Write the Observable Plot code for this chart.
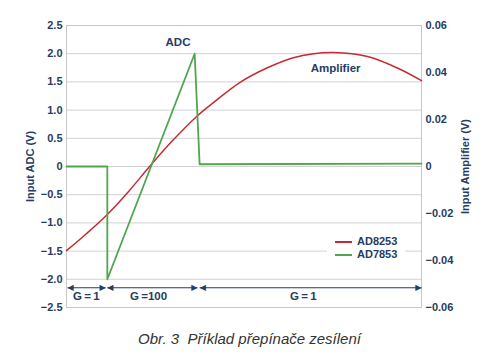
<!DOCTYPE html>
<html><head><meta charset="utf-8">
<script src="https://cdn.jsdelivr.net/npm/d3@7"></script>
<script src="https://cdn.jsdelivr.net/npm/@observablehq/plot@0.6"></script>
<style>
body{margin:0;background:#fff;font-family:"Liberation Sans",Arial,sans-serif;}
#wrap{position:relative;width:487px;}
#legend{position:absolute;left:327px;top:232px;width:78px;height:30px;background:#fff;padding-top:3px;box-sizing:border-box;}
#legend .row{height:12.5px;line-height:12.5px;font-size:11px;font-weight:bold;color:#263c63;white-space:nowrap;}
#legend .sw{display:inline-block;width:17px;height:2px;vertical-align:middle;margin-left:8px;margin-right:5px;}
#caption{width:487px;box-sizing:border-box;padding-left:12px;text-align:center;margin-top:11px;line-height:16px;font-size:15px;font-style:italic;color:#333;}
</style></head><body>
<div id="wrap"><div id="chart"></div><div id="legend"></div></div>
<div id="caption">Obr. 3&nbsp; Příklad přepínače zesílení</div>
<script>
// time axis (arbitrary units 0..100)
const ampT = [0, 5.6, 11.5, 17.5, 23.4, 29.3, 36.6, 41.4, 49.0, 56.6, 63.9, 69.6, 75.2, 84.8, 94.1, 100];
// AD8253 amplifier input (V) - right axis
const ampV = [-0.0358, -0.0286, -0.0204, -0.0106, 0, 0.0101, 0.0212, 0.0272, 0.0359, 0.042, 0.0463, 0.048, 0.0485, 0.0468, 0.0413, 0.0365];
// AD7853 ADC input (V) - left axis
const adcT = [0, 11.5, 11.5, 36.1, 37.5, 100];
const adcV = [0, 0, -2.0, 2.0, 0.04, 0.05];
// gain regions
const gainStart = [0.3, 11.5, 37.5];
const gainEnd = [11.0, 36.9, 100];
const gainLabelX = [5.6, 23.1, 66.7];
const gainLabels = ["G\u2009=\u20091", "G\u2009=100", "G\u2009=\u20091"];
// axes
const adcTicks = [-2.5, -2, -1.5, -1, -0.5, 0, 0.5, 1, 1.5, 2, 2.5];
const ampTicks = [-0.06, -0.04, -0.02, 0, 0.02, 0.04, 0.06];
const seriesNames = ["AD8253", "AD7853"];
const seriesColors = ["#c52b33", "#4fa64f"];

const navy = "#263c63";
const k = 2.5 / 0.06;
const amp = ampT.map((t, i) => ({t, v: ampV[i] * k}));
const adc = adcT.map((t, i) => ({t, v: adcV[i]}));
const gains = gainStart.map((s, i) => ({s, e: gainEnd[i], lx: gainLabelX[i], label: gainLabels[i]}));
const fmtL = d => Math.abs(d) < 1e-9 ? "0" : d3.format(".1f")(d);
const fmtR = d => Math.abs(d) < 1e-9 ? "0" : d3.format(".2f")(d);

const chart = Plot.plot({
  width: 487, height: 320,
  marginLeft: 66, marginRight: 66, marginTop: 25, marginBottom: 13,
  x: {domain: [0, 100], axis: null},
  y: {domain: [-2.5, 2.5], axis: null},
  style: {fontFamily: "'Liberation Sans', Arial, sans-serif", color: navy, background: "#fff"},
  marks: [
    Plot.gridY(adcTicks, {stroke: "#d2d2d2", strokeOpacity: 1}),
    Plot.frame({stroke: "#c8c8c8"}),
    Plot.axisY(adcTicks, {anchor: "left", tickSize: 0, tickPadding: 4, tickFormat: fmtL, fontSize: 11, fontWeight: "bold",
      label: "Input ADC (V)", labelArrow: "none", labelAnchor: "center", labelOffset: 40}),
    Plot.axisY(ampTicks.map(v => v * k), {anchor: "right", tickSize: 0, tickPadding: 4, tickFormat: d => fmtR(d / k), fontSize: 11, fontWeight: "bold",
      label: "Input Amplifier (V)", labelArrow: "none", labelAnchor: "center", labelOffset: 47}),
    Plot.line(amp, {x: "t", y: "v", stroke: seriesColors[0], strokeWidth: 1.5, curve: "catmull-rom"}),
    Plot.line(adc, {x: "t", y: "v", stroke: seriesColors[1], strokeWidth: 1.8}),
    Plot.link(gains, {x1: "s", x2: "e", y1: () => -2.15, y2: () => -2.15, stroke: navy, strokeWidth: 1.2}),
    Plot.text(gains, {x: "s", y: () => -2.15, text: () => "\u25C0", textAnchor: "start", fill: navy, fontSize: 8, fontFamily: "DejaVu Sans"}),
    Plot.text(gains, {x: "e", y: () => -2.15, text: () => "\u25B6", textAnchor: "end", fill: navy, fontSize: 8, fontFamily: "DejaVu Sans"}),
    Plot.text(gains, {x: "lx", y: () => -2.31, text: "label", fill: navy, fontSize: 11.5, fontWeight: "bold"}),
    Plot.text(["ADC"], {x: 31.4, y: 2.21, fill: navy, fontSize: 11.5, fontWeight: "bold"}),
    Plot.text(["Amplifier"], {x: 75.8, y: 1.74, fill: navy, fontSize: 11.5, fontWeight: "bold"})
  ]
});
document.getElementById("chart").appendChild(chart);

const legend = document.getElementById("legend");
seriesNames.forEach((n, i) => {
  const row = document.createElement("div");
  row.className = "row";
  row.innerHTML = `<span class="sw" style="background:${seriesColors[i]}"></span>${n}`;
  legend.appendChild(row);
});
</script>
</body></html>
